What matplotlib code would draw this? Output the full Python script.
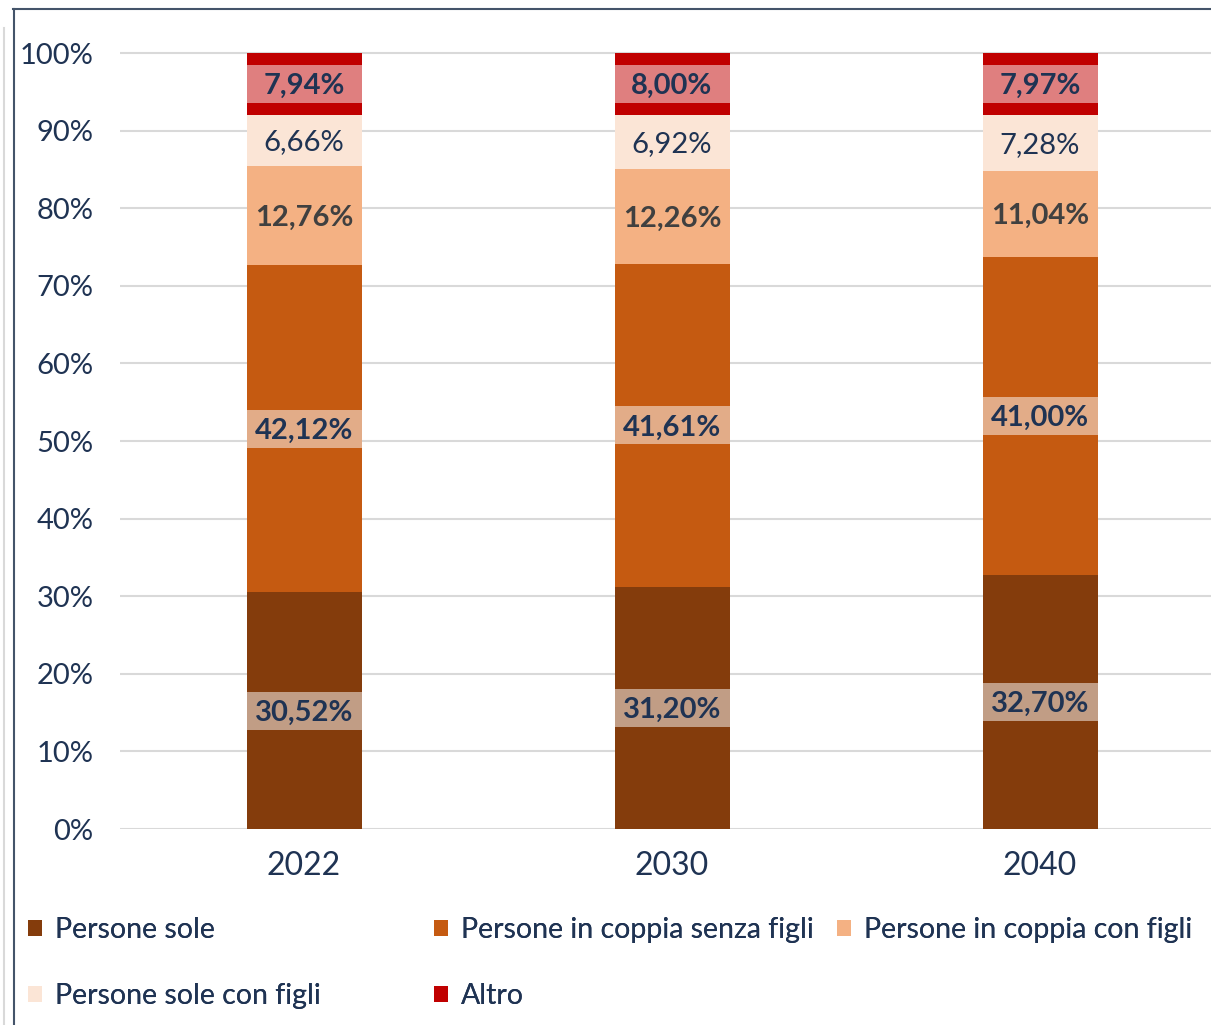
import numpy as np
import matplotlib.pyplot as plt
from matplotlib.patches import Rectangle
from matplotlib.lines import Line2D

plt.rcParams['font.family'] = ['Lato', 'DejaVu Sans']

# Data
years = ['2022', '2030', '2040']
series = ['Persone sole', 'Persone in coppia senza figli', 'Persone in coppia con figli',
          'Persone sole con figli', 'Altro']
persone_sole = [30.52, 31.20, 32.70]
coppia_senza_figli = [42.12, 41.61, 41.00]
coppia_con_figli = [12.76, 12.26, 11.04]
sole_con_figli = [6.66, 6.92, 7.28]
altro = [7.94, 8.00, 7.97]
values = [persone_sole, coppia_senza_figli, coppia_con_figli, sole_con_figli, altro]

colors = ['#843C0C', '#C55A11', '#F4B183', '#FBE5D6', '#C00000']
text_colors = ['#1F3353', '#1F3353', '#404040', '#1F3353', '#1F3353']
text_weights = ['bold', 'bold', 'bold', 'normal', 'bold']
label_box = [True, True, False, False, True]
navy = '#1F3353'

W, H = 1211, 1025
fig = plt.figure(figsize=(W / 100, H / 100), dpi=100)
# axes: x from 120px to 1224px, y=0 at 829px, 100 at 53px
px_per = (829 - 53) / 100
top_px = 829 - px_per * 101
ax = fig.add_axes([120 / W, (H - 829) / H, (1224 - 120) / W, (829 - top_px) / H])

x = np.arange(len(years))
bottom = np.zeros(len(years))
bar_w = 0.3125
box_h = 38 / px_per
for i, vals in enumerate(values):
    bars = ax.bar(x, vals, bar_w, bottom=bottom, color=colors[i], label=series[i], zorder=3)
    for b, v in zip(bars, vals):
        cy = b.get_y() + b.get_height() / 2
        if label_box[i]:
            ax.add_patch(Rectangle((b.get_x(), cy - box_h / 2), b.get_width(), box_h,
                                   facecolor='white', alpha=0.5, edgecolor='none', zorder=4))
        ax.annotate(f"{v:.2f}".replace('.', ',') + '%', (b.get_x() + b.get_width() / 2, cy),
                    xytext=(0, -2), textcoords='offset pixels',
                    ha='center', va='center', fontsize=21, color=text_colors[i],
                    fontweight=text_weights[i], zorder=5)
    bottom += np.array(vals)

ax.set_xlim(-0.5, 2.5)
ax.set_ylim(0, 101)
ax.set_yticks(np.arange(0, 101, 10))
ax.set_yticklabels([f"{t}%" for t in range(0, 101, 10)])
ax.set_xticks(x)
ax.set_xticklabels(years)
ax.tick_params(axis='y', length=0, pad=19, labelsize=21, labelcolor=navy)
ax.tick_params(axis='x', length=0, pad=16, labelsize=23, labelcolor=navy)
ax.grid(axis='y', color='#D9D9D9', linewidth=1.5, zorder=0)
for s in ax.spines.values():
    s.set_visible(False)

# legend in three columns placed separately
handles, labels = ax.get_legend_handles_labels()
leg_kw = dict(frameon=False, fontsize=20.5, labelcolor=navy, handlelength=0.5, handleheight=0.5,
              handletextpad=0.45, labelspacing=1.4, borderpad=0, borderaxespad=0, loc='center left')
cols = [([0, 3], 28, 963), ([1, 4], 434, 963), ([2], 837, 930)]
for idx, xp, yp in cols:
    lg = fig.legend([handles[j] for j in idx], [labels[j] for j in idx],
                    bbox_to_anchor=(xp / W, 1 - yp / H), **leg_kw)
    fig.add_artist(lg)

# chart frame
fig.add_artist(Line2D([13 / W, 1], [1 - 8.5 / H, 1 - 8.5 / H], color='#44546A', linewidth=1.5))
fig.add_artist(Line2D([13.5 / W, 13.5 / W], [0, 1 - 8.5 / H], color='#44546A', linewidth=1.5))
fig.add_artist(Line2D([3.5 / W, 3.5 / W], [0, 1 - 28 / H], color='#D9D9D9', linewidth=1.5))

fig.savefig('out.png', dpi=100)
